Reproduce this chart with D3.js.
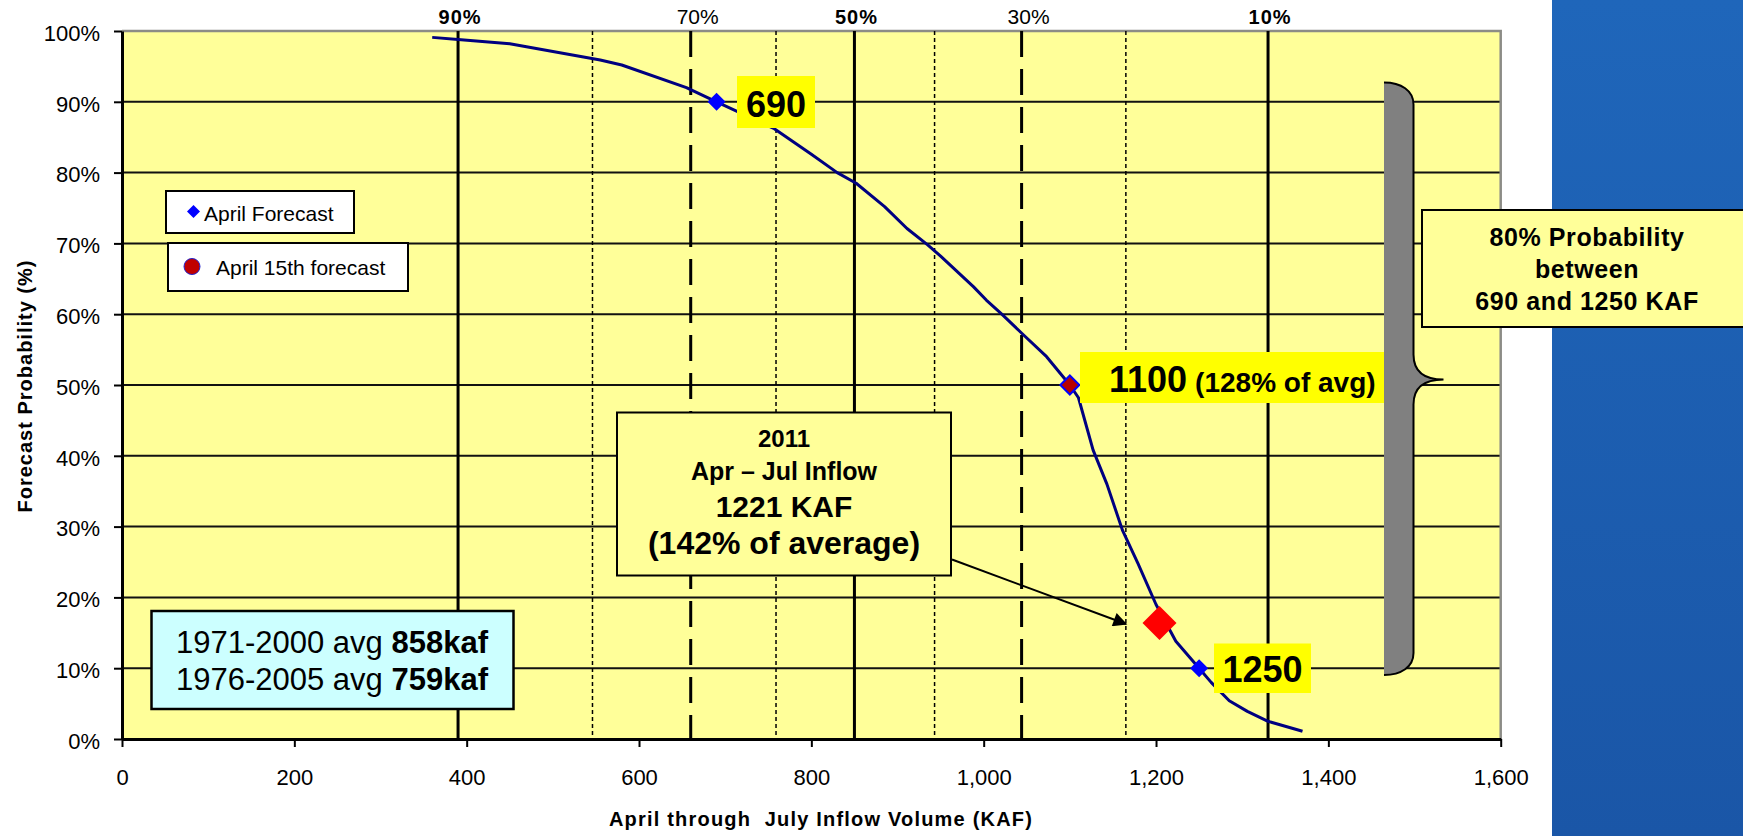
<!DOCTYPE html>
<html>
<head>
<meta charset="utf-8">
<script src="https://cdn.jsdelivr.net/npm/d3@7"></script>
<style>
  html, body { margin: 0; padding: 0; background: #ffffff; }
  svg { display: block; font-family: "Liberation Sans", Arial, sans-serif; }
</style>
</head>
<body>
<svg id="chart" width="1743" height="836"></svg>
<script>
// ---------------- data ----------------
const xTicks = [0, 200, 400, 600, 800, 1000, 1200, 1400, 1600];
const yTicks = [0, 10, 20, 30, 40, 50, 60, 70, 80, 90, 100];

// exceedance curve: April-July inflow volume (KAF) vs forecast probability (%)
const curveVolume = [360, 390, 450, 555, 580, 655, 690, 757, 800, 830, 852, 885, 911, 935, 950, 988, 1003, 1021, 1046, 1073, 1100, 1110, 1127, 1143, 1161, 1179, 1200, 1223, 1250, 1264, 1285, 1306, 1330, 1370];
const curveProb   = [99.1, 98.8, 98.2, 95.9, 95.2, 92.0, 90.0, 86.2, 82.6, 80.0, 78.5, 75.2, 72.1, 69.8, 68.2, 63.9, 62.0, 60.0, 57.1, 54.0, 50.0, 48.2, 40.8, 36.0, 29.5, 24.8, 19.0, 13.8, 10.0, 8.0, 5.4, 3.9, 2.5, 1.1];

// April forecast points
const forecastVolume = [690, 1100, 1250];
const forecastProb   = [90, 50, 10];
// April 15th forecast
const apr15Volume = [1100];
const apr15Prob   = [50];
// 2011 observed
const actualVolume = [1204];
const actualProb   = [16.4];

// vertical exceedance reference lines
const refValues = [390, 546, 660, 759, 850, 943, 1044, 1165, 1330];
const refKinds  = ["solid", "dotted", "dashed", "dotted", "solid", "dotted", "dashed", "dotted", "solid"];
const exceedLabels = ["90%", "70%", "50%", "30%", "10%"];
const exceedValues = [390, 660, 850, 1044, 1330];
const exceedBold   = [true, false, true, false, true];

const legendLabels = ["April Forecast", "April 15th forecast"];

// ---------------- drawing ----------------
const svg = d3.select("#chart");
const FONT = '"Liberation Sans", Arial, sans-serif';

// blue side panel
const defs = svg.append("defs");
const grad = defs.append("linearGradient").attr("id", "bluePanel").attr("x1", 0).attr("y1", 0).attr("x2", 0).attr("y2", 1);
grad.append("stop").attr("offset", "0%").attr("stop-color", "#1f66ba");
grad.append("stop").attr("offset", "100%").attr("stop-color", "#1a56a7");
svg.append("rect").attr("x", 1552).attr("y", 0).attr("width", 191).attr("height", 836).attr("fill", "url(#bluePanel)");

const x = d3.scaleLinear().domain([0, 1600]).range([122, 1500.7]);
const y = d3.scaleLinear().domain([0, 100]).range([739, 31]);

// plot background
svg.append("rect")
  .attr("x", x(0)).attr("y", y(100))
  .attr("width", x(1600) - x(0)).attr("height", y(0) - y(100))
  .attr("fill", "#ffff99");

// horizontal gridlines
svg.append("g").selectAll("line")
  .data(yTicks.filter(d => d > 0 && d < 100))
  .join("line")
  .attr("x1", x(0)).attr("x2", x(1600))
  .attr("y1", d => y(d)).attr("y2", d => y(d))
  .attr("stroke", "#111").attr("stroke-width", 2);

// plot border top / right (grey)
svg.append("path")
  .attr("d", `M${x(0)},${y(100)} H${x(1600)} V${y(0)}`)
  .attr("fill", "none").attr("stroke", "#8c8c86").attr("stroke-width", 2.5);

// vertical reference lines
svg.append("g").selectAll("line")
  .data(refValues.map((v, i) => ({ v, k: refKinds[i] })))
  .join("line")
  .attr("x1", d => x(d.v)).attr("x2", d => x(d.v))
  .attr("y1", y(100)).attr("y2", y(0))
  .attr("stroke", "#000")
  .attr("stroke-width", d => d.k === "dotted" ? 1.5 : 3)
  .attr("stroke-dasharray", d => d.k === "dotted" ? "4,3" : d.k === "dashed" ? "26,12" : null);

// exceedance labels on top
svg.append("g").selectAll("text")
  .data(exceedLabels.map((t, i) => ({ t, v: exceedValues[i], b: exceedBold[i] })))
  .join("text")
  .attr("x", d => x(d.v) + (d.b ? 2 : 7))
  .attr("y", 24)
  .attr("text-anchor", "middle")
  .attr("font-size", d => d.b ? 20 : 21)
  .attr("font-weight", d => d.b ? "bold" : "normal")
  .attr("letter-spacing", d => d.b ? 1 : 0)
  .attr("fill", "#000")
  .text(d => d.t);

// axes
const xAxis = d3.axisBottom(x).tickValues(xTicks).tickFormat(d3.format(",")).tickSize(8).tickSizeOuter(0).tickPadding(22);
const gx = svg.append("g").attr("transform", `translate(0,${y(0)})`).call(xAxis);
gx.selectAll("text").attr("font-size", 22).attr("font-family", FONT).attr("fill", "#000");
gx.selectAll("line").attr("stroke", "#000").attr("stroke-width", 2);
gx.select(".domain").attr("stroke", "#000").attr("stroke-width", 3);

const yAxis = d3.axisLeft(y).tickValues(yTicks).tickFormat(d => d + "%").tickSize(8).tickSizeOuter(0).tickPadding(14);
const gy = svg.append("g").attr("transform", `translate(${x(0)},0)`).call(yAxis);
gy.selectAll("text").attr("font-size", 22).attr("font-family", FONT).attr("fill", "#000").attr("dy", "0.42em");
gy.selectAll("line").attr("stroke", "#000").attr("stroke-width", 2);
gy.select(".domain").attr("stroke", "#000").attr("stroke-width", 3);

// axis titles
svg.append("text")
  .attr("x", 821).attr("y", 826)
  .attr("text-anchor", "middle").attr("font-size", 20).attr("font-weight", "bold")
  .attr("letter-spacing", 1.2)
  .text("April through  July Inflow Volume (KAF)")
  .style("white-space", "pre");
svg.append("text")
  .attr("transform", "translate(32,386) rotate(-90)")
  .attr("text-anchor", "middle").attr("font-size", 20).attr("font-weight", "bold")
  .attr("letter-spacing", 1)
  .text("Forecast Probability (%)");

// curve
const curveData = curveVolume.map((v, i) => [v, curveProb[i]]);
svg.append("path")
  .datum(curveData)
  .attr("d", d3.line().x(d => x(d[0])).y(d => y(d[1])))
  .attr("fill", "none").attr("stroke", "#000080").attr("stroke-width", 3).attr("stroke-linejoin", "round");

// diamond helper
const diamond = (cx, cy, r) => `M${cx},${cy - r} L${cx + r},${cy} L${cx},${cy + r} L${cx - r},${cy} Z`;

// April forecast markers
svg.append("g").selectAll("path")
  .data(forecastVolume.map((v, i) => [v, forecastProb[i]]))
  .join("path")
  .attr("d", d => diamond(x(d[0]), y(d[1]), 9))
  .attr("fill", "#0000ff");

// April 15th forecast marker
svg.append("g").selectAll("path")
  .data(apr15Volume.map((v, i) => [v, apr15Prob[i]]))
  .join("path")
  .attr("d", d => diamond(x(d[0]), y(d[1]), 9.5))
  .attr("fill", "#b80000").attr("stroke", "#0000ff").attr("stroke-width", 2);

// annotation arrow
defs.append("marker").attr("id", "arrowHead").attr("viewBox", "0 0 10 10")
  .attr("refX", 9).attr("refY", 5).attr("markerWidth", 8).attr("markerHeight", 7)
  .attr("markerUnits", "strokeWidth").attr("orient", "auto")
  .append("path").attr("d", "M0,0 L10,5 L0,10 Z").attr("fill", "#000");
svg.append("line")
  .attr("x1", 952).attr("y1", 559.5).attr("x2", 1126).attr("y2", 624)
  .attr("stroke", "#000").attr("stroke-width", 2).attr("marker-end", "url(#arrowHead)");

// 2011 observed marker
svg.append("g").selectAll("path")
  .data(actualVolume.map((v, i) => [v, actualProb[i]]))
  .join("path")
  .attr("d", d => diamond(x(d[0]), y(d[1]), 17))
  .attr("fill", "#ff0000");

// ---------- value call-outs ----------
function box(xp, yp, w, h, fill, strokeW) {
  return svg.append("rect").attr("x", xp).attr("y", yp).attr("width", w).attr("height", h)
    .attr("fill", fill).attr("stroke", strokeW ? "#000" : "none").attr("stroke-width", strokeW || 0);
}

box(737, 76, 78, 52, "#ffff00");
svg.append("text").attr("x", 776).attr("y", 117).attr("text-anchor", "middle")
  .attr("font-size", 36).attr("font-weight", "bold").text("690");

box(1080, 352, 304, 51, "#ffff00");
const t1100 = svg.append("text").attr("x", 1109).attr("y", 391.5).attr("font-weight", "bold");
t1100.append("tspan").attr("font-size", 36).text("1100");
t1100.append("tspan").attr("font-size", 28).attr("dx", 8).text("(128% of avg)");

box(1214, 643.5, 97, 49.5, "#ffff00");
svg.append("text").attr("x", 1262.5).attr("y", 682).attr("text-anchor", "middle")
  .attr("font-size", 36).attr("font-weight", "bold").text("1250");

// 2011 box
box(617, 412.5, 334, 163, "#ffff99", 2);
const lines2011 = [["2011", 24, 446.5], ["Apr \u2013 Jul Inflow", 25, 480], ["1221 KAF", 30, 516.5], ["(142% of average)", 32, 553.5]];
svg.append("g").selectAll("text").data(lines2011).join("text")
  .attr("x", 784).attr("y", d => d[2]).attr("text-anchor", "middle")
  .attr("font-size", d => d[1]).attr("font-weight", "bold").text(d => d[0]);

// averages box
box(151.5, 611, 362, 98, "#ccffff", 2.5);
const avgLines = [["1971-2000 avg ", "858kaf", 652.5], ["1976-2005 avg ", "759kaf", 690]];
avgLines.forEach(l => {
  const t = svg.append("text").attr("x", 332).attr("y", l[2]).attr("text-anchor", "middle").attr("font-size", 31);
  t.append("tspan").text(l[0]).style("white-space", "pre");
  t.append("tspan").attr("font-weight", "bold").text(l[1]);
});

// legend
box(166, 191, 188, 42, "#ffffff", 2);
svg.append("path").attr("d", diamond(193.5, 211.5, 6.5)).attr("fill", "#0000ff");
svg.append("text").attr("x", 204).attr("y", 220.5).attr("font-size", 21).text(legendLabels[0]);
box(168, 243, 240, 48, "#ffffff", 2);
svg.append("circle").attr("cx", 192).attr("cy", 266.5).attr("r", 8).attr("fill", "#c00000").attr("stroke", "#2222cc").attr("stroke-width", 1);
svg.append("text").attr("x", 216).attr("y", 275).attr("font-size", 21).text(legendLabels[1]);

// brace
const xl = 1384, xm = 1413.5, xt = 1443.5, yt = 82.5, yc = 379.5, yb = 675;
const braceCurve = `M${xl},${yt} C${xl + 17},${yt} ${xm},${yt + 8} ${xm},${yt + 22}` +
  ` L${xm},${yc - 25} C${xm},${yc - 8} ${xm + 10},${yc} ${xt},${yc}` +
  ` C${xm + 10},${yc} ${xm},${yc + 8} ${xm},${yc + 25}` +
  ` L${xm},${yb - 22} C${xm},${yb - 8} ${xl + 17},${yb} ${xl},${yb}`;
svg.append("path").attr("d", braceCurve + " Z").attr("fill", "#808080");
svg.append("path").attr("d", braceCurve).attr("fill", "none").attr("stroke", "#000").attr("stroke-width", 2);

// 80% probability box
box(1422, 210, 330, 117, "#ffff99", 2);
const lines80 = [["80% Probability", 246], ["between", 277.5], ["690 and 1250 KAF", 309.5]];
svg.append("g").selectAll("text").data(lines80).join("text")
  .attr("x", 1587).attr("y", d => d[1]).attr("text-anchor", "middle")
  .attr("font-size", 25).attr("font-weight", "bold").attr("letter-spacing", 0.6).text(d => d[0]);
</script>
</body>
</html>
